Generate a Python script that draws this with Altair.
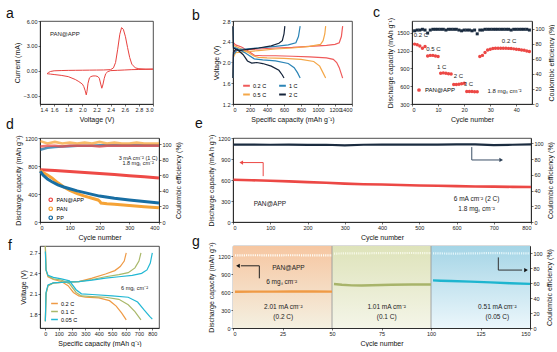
import altair as alt
import pandas as pd

FONT = "Liberation Sans"
RED = "#ec4845"
NAVY = "#1b2c40"

# ---------------- (a) CV ----------------
cv_voltage = [1.50, 1.52, 1.55, 1.60, 1.70, 1.80, 1.90, 2.00, 2.10, 2.20, 2.30, 2.40, 2.44, 2.47, 2.50, 2.53, 2.555, 2.58, 2.61, 2.64, 2.67, 2.70, 2.75, 2.80, 2.90, 3.00,
              2.90, 2.80, 2.70, 2.60, 2.50, 2.40, 2.36, 2.33, 2.31, 2.29, 2.275, 2.26, 2.24, 2.22, 2.19, 2.15, 2.12, 2.10, 2.08, 2.065, 2.055, 2.04, 2.02, 2.00, 1.95, 1.90, 1.80, 1.70, 1.60, 1.55, 1.50]
cv_current = [-0.35, -0.20, -0.08, 0.00, 0.03, 0.05, 0.06, 0.07, 0.08, 0.09, 0.10, 0.14, 0.35, 1.0, 2.6, 4.4, 5.2, 5.0, 4.1, 2.8, 1.6, 0.8, 0.35, 0.25, 0.2, 0.2,
              0.18, 0.16, 0.14, 0.10, 0.06, 0.02, -0.10, -0.35, -0.9, -1.7, -2.1, -1.6, -0.9, -0.7, -0.62, -0.62, -0.7, -0.85, -1.5, -2.5, -2.9, -2.4, -1.9, -1.6, -1.3, -1.05, -0.7, -0.55, -0.45, -0.4, -0.35]
a_xticks = [1.4, 1.6, 1.8, 2.0, 2.2, 2.4, 2.6, 2.8, 3.0]
a_yticks = [-3, 0, 3, 6]

# ---------------- (b) voltage profiles ----------------
b_rates = ["0.2 C", "0.5 C", "1 C", "2 C"]
b_colors = ["#ef5a5a", "#f4a748", "#2b84b6", "#14233a"]
b02_dis_cap = [0, 5, 30, 100, 180, 250, 350, 500, 700, 900, 1100, 1180, 1220, 1250, 1270, 1290]
b02_dis_v = [2.7, 2.38, 2.34, 2.30, 2.22, 2.14, 2.13, 2.13, 2.12, 2.11, 2.09, 2.06, 2.0, 1.9, 1.8, 1.7]
b02_chg_cap = [0, 5, 20, 60, 150, 300, 500, 700, 900, 1100, 1200, 1250, 1275, 1290]
b02_chg_v = [1.7, 2.15, 2.22, 2.24, 2.25, 2.26, 2.28, 2.29, 2.31, 2.33, 2.35, 2.38, 2.5, 2.7]
b05_dis_cap = [0, 5, 50, 150, 250, 300, 400, 600, 800, 950, 1020, 1060, 1090]
b05_dis_v = [2.7, 2.33, 2.30, 2.22, 2.12, 2.10, 2.09, 2.08, 2.06, 2.02, 1.93, 1.8, 1.7]
b05_chg_cap = [0, 5, 30, 100, 300, 500, 700, 900, 1030, 1060, 1080, 1090]
b05_chg_v = [1.7, 2.1, 2.19, 2.2, 2.23, 2.26, 2.28, 2.31, 2.35, 2.42, 2.55, 2.7]
b1_dis_cap = [0, 5, 50, 150, 250, 350, 500, 650, 720, 760, 790]
b1_dis_v = [2.7, 2.3, 2.27, 2.18, 2.07, 2.05, 2.03, 1.98, 1.9, 1.8, 1.7]
b1_chg_cap = [0, 5, 50, 150, 300, 500, 650, 740, 770, 790]
b1_chg_v = [1.7, 2.15, 2.25, 2.26, 2.28, 2.31, 2.34, 2.38, 2.5, 2.7]
b2_dis_cap = [0, 5, 50, 120, 170, 220, 280, 350, 450, 540, 580, 600]
b2_dis_v = [2.7, 2.28, 2.25, 2.15, 2.03, 1.99, 2.0, 1.98, 1.93, 1.85, 1.76, 1.7]
b2_chg_cap = [0, 5, 30, 80, 150, 300, 450, 540, 580, 600, 610]
b2_chg_v = [1.7, 2.2, 2.25, 2.23, 2.25, 2.28, 2.32, 2.37, 2.42, 2.55, 2.7]

# ---------------- (c) rate capability ----------------
c_cycles = list(range(1, 46))
c_capacity = [1310, 1300, 1280, 1240, 1270, 1110, 1120, 1120, 1110, 1100, 820, 825, 820, 810, 805,
              630, 630, 632, 640, 650, 510, 510, 510, 505, 505,
              1100, 1120, 1170, 1210, 1225, 1235, 1240, 1240, 1240, 1240, 1240, 1238, 1235, 1230, 1225, 1220, 1212, 1205, 1195, 1185]
c_ce = [97, 98, 98, 99, 98, 94, 98, 99, 99, 99, 99, 99, 98, 99, 99, 99, 99, 98, 97, 98, 98, 98, 97, 98, 93,
        98, 98, 99, 99, 99, 99, 99, 99, 99, 99, 99, 99, 98, 99, 99, 99, 99, 99, 99, 98]
c_labels = ["0.2 C", "0.5 C", "1 C", "2 C", "3 C", "0.2 C", "1.8 mgₛ cm⁻²"]
c_label_x = [3.4, 8.2, 11.4, 17.8, 21.6, 37.2, 35.5]
c_label_y = [1470, 1222, 929, 772, 632, 1362, 524]

# ---------------- (d) cycling 1 C ----------------
d_series = ["PAN@APP", "PAN", "PP"]
d_colors = ["#ee4a46", "#f5a336", "#186ea3"]
d_app_cycles = [1, 50, 100, 150, 200, 250, 300, 350, 400]
d_app_cap = [745, 735, 722, 708, 692, 678, 662, 645, 628]
d_pan_cycles = [1, 10, 25, 40, 60, 80, 100, 125, 150, 175, 195, 200, 205, 225, 250, 300, 350, 400]
d_pan_cap = [735, 705, 670, 630, 560, 500, 450, 405, 370, 340, 315, 300, 272, 262, 252, 235, 218, 202]
d_pp_cycles = [1, 10, 25, 40, 60, 80, 100, 125, 150, 175, 200, 250, 300, 350, 400]
d_pp_cap = [725, 670, 615, 575, 530, 500, 475, 445, 420, 395, 370, 340, 315, 293, 272]
d_ce_cycles = [1, 25, 50, 75, 100, 125, 150, 175, 200, 225, 250, 275, 300, 325, 350, 375, 400]
d_ce_app = [97, 98, 98, 97, 98, 98, 98, 98, 97, 98, 98, 98, 98, 98, 98, 98, 98]
d_ce_pan = [104, 101, 103, 101, 102, 101, 102, 101, 103, 101, 102, 101, 101, 102, 101, 101, 101]
d_ce_pp = [93, 95.5, 96.5, 97, 97.5, 98, 98, 98, 98.5, 98.5, 98.5, 98.5, 98.5, 98.5, 98.5, 98.5, 98.5]

# ---------------- (e) long cycling 2 C ----------------
e_cycles = [1, 50, 100, 150, 200, 250, 300, 350, 400, 450, 500, 550, 600, 650, 700, 750, 800]
e_capacity = [603, 597, 590, 580, 570, 560, 548, 540, 535, 528, 522, 517, 512, 508, 505, 502, 500]
e_ce = [98.5, 98.6, 98.4, 98.5, 98.3, 98.4, 97.6, 98.4, 98.6, 98.5, 98.6, 98.5, 98.8, 99.0, 97.9, 98.4, 99.0]

# ---------------- (f) high loading profiles ----------------
f_rates = ["0.2 C", "0.1 C", "0.05 C"]
f_colors = ["#ef9a45", "#a9b86a", "#22b8d4"]
f02_dis_cap = [0, 5, 20, 60, 120, 170, 210, 250, 300, 400, 480, 530, 570, 605]
f02_dis_v = [2.8, 2.45, 2.35, 2.31, 2.28, 2.22, 2.12, 2.07, 2.05, 2.04, 2.0, 1.92, 1.82, 1.72]
f02_chg_cap = [0, 5, 20, 60, 150, 250, 350, 450, 520, 560, 590, 605]
f02_chg_v = [1.7, 2.1, 2.22, 2.26, 2.27, 2.28, 2.33, 2.39, 2.44, 2.5, 2.58, 2.7]
f01_dis_cap = [0, 5, 20, 60, 120, 180, 230, 270, 350, 450, 550, 620, 670, 715]
f01_dis_v = [2.8, 2.45, 2.36, 2.32, 2.3, 2.25, 2.12, 2.07, 2.06, 2.05, 2.02, 1.94, 1.84, 1.72]
f01_chg_cap = [0, 5, 20, 60, 150, 250, 350, 450, 550, 620, 670, 700, 715]
f01_chg_v = [1.7, 2.1, 2.22, 2.26, 2.27, 2.28, 2.31, 2.35, 2.38, 2.41, 2.48, 2.58, 2.7]
f005_dis_cap = [0, 5, 20, 60, 120, 180, 230, 270, 350, 500, 620, 690, 740, 780, 800]
f005_dis_v = [2.72, 2.45, 2.37, 2.34, 2.32, 2.29, 2.16, 2.1, 2.09, 2.07, 2.05, 1.98, 1.86, 1.77, 1.73]
f005_chg_cap = [0, 5, 20, 60, 150, 250, 350, 450, 550, 650, 720, 760, 785, 800]
f005_chg_v = [1.7, 2.12, 2.23, 2.26, 2.27, 2.28, 2.3, 2.33, 2.35, 2.37, 2.4, 2.45, 2.55, 2.7]

# ---------------- (g) stepwise currents ----------------
g_region_start = [0, 50, 100]
g_region_end = [50, 100, 150]
g_region_top = ["#f6c6a1", "#dee3ba", "#a5d5e6"]
g_region_bottom = ["#f4f0e1", "#f4f5e8", "#ebf6fb"]
g1_cycles = [1, 10, 20, 30, 40, 50]
g1_cap = [605, 607, 608, 610, 610, 608]
g2_cycles = [51, 55, 60, 65, 70, 80, 90, 100]
g2_cap = [735, 722, 712, 710, 715, 722, 728, 728]
g3_cycles = [101, 105, 110, 120, 130, 140, 150]
g3_cap = [795, 790, 785, 775, 762, 748, 738]
g1_ce = [97.5, 97.6, 97.5, 97.6, 97.5, 97.5]
g2_ce = [99.8, 100.0, 100.2, 100.0, 100.3, 100.5, 100.6, 100.4]
g3_ce = [100.2, 100.0, 99.8, 100.0, 100.5, 100.2, 100.0]


# ---------------- helpers ----------------
def letter(t, dx, dy=0):
    return alt.TitleParams(text=t, anchor="start", frame="group", dx=dx, dy=dy, offset=0,
                           baseline="alphabetic", fontSize=14, fontWeight="normal", font=FONT, color="#111")


def ax(**kw):
    return alt.Axis(labelOverlap=False, labelFontSize=5.5, **kw)


def curves(items):
    rows = []
    for series, seg, xs, ys in items:
        for k, (x, y) in enumerate(zip(xs, ys)):
            rows.append({"s": series, "seg": series + seg, "x": x, "y": y, "k": k})
    return pd.DataFrame(rows)


def texts(X, Y, xs, ys, labels, size=6, align="center", color="#222"):
    df = pd.DataFrame({X.shorthand.split(":")[0]: xs, Y.shorthand.split(":")[0]: ys, "t": labels})
    return alt.Chart(df).mark_text(fontSize=size, align=align, baseline="middle", color=color, font=FONT).encode(
        x=X, y=Y, text="t:N")


def path(X, Y, xs, ys, color):
    df = pd.DataFrame({X.shorthand.split(":")[0]: xs, Y.shorthand.split(":")[0]: ys, "k": list(range(len(xs)))})
    return alt.Chart(df).mark_line(color=color, strokeWidth=1).encode(x=X, y=Y, order="k:Q")


def head(X, Y, x, y, shape, color):
    df = pd.DataFrame({X.shorthand.split(":")[0]: [x], Y.shorthand.split(":")[0]: [y]})
    return alt.Chart(df).mark_point(shape=shape, filled=True, size=18, color=color, opacity=1).encode(x=X, y=Y)


def ce_y(top):
    return alt.Y("ce:Q", scale=alt.Scale(domain=[0, top], nice=False),
                 axis=ax(orient="right", values=[0, 20, 40, 60, 80, 100], format="d",
                         title="Coulombic efficiency (%)", titleAngle=270, titleBaseline="top"))


cap_title = "Discharge capacity (mAh g⁻¹)"

# ---------------- panel a ----------------
A_X = alt.X("x:Q", scale=alt.Scale(domain=[1.4, 3.0], nice=False, zero=False),
            axis=ax(values=a_xticks, format=".1f", title="Voltage (V)"))
A_Y = alt.Y("y:Q", scale=alt.Scale(domain=[-4, 6], nice=False),
            axis=ax(values=a_yticks, format=".2f", title="Current (mA)"))
df_a = pd.DataFrame({"x": cv_voltage, "y": cv_current, "k": list(range(len(cv_voltage)))})
a_line = alt.Chart(df_a).mark_line(color="#e8423f", strokeWidth=1).encode(x=A_X, y=A_Y, order="k:Q")
panel_a = alt.layer(a_line, texts(A_X, A_Y, [1.54], [4.4], ["PAN@APP"], align="left")).properties(
    width=113, height=83, title=letter("a", -34, 13))

# ---------------- panel b ----------------
df_b = curves([
    ("0.2 C", "d", b02_dis_cap, b02_dis_v), ("0.2 C", "c", b02_chg_cap, b02_chg_v),
    ("0.5 C", "d", b05_dis_cap, b05_dis_v), ("0.5 C", "c", b05_chg_cap, b05_chg_v),
    ("1 C", "d", b1_dis_cap, b1_dis_v), ("1 C", "c", b1_chg_cap, b1_chg_v),
    ("2 C", "d", b2_dis_cap, b2_dis_v), ("2 C", "c", b2_chg_cap, b2_chg_v),
])
panel_b = alt.Chart(df_b).mark_line(strokeWidth=1.2).encode(
    x=alt.X("x:Q", scale=alt.Scale(domain=[0, 1400], nice=False),
            axis=ax(values=list(range(0, 1401, 200)), format="d", title="Specific capacity (mAh g⁻¹)")),
    y=alt.Y("y:Q", scale=alt.Scale(domain=[1.2, 2.8], nice=False, zero=False),
            axis=ax(values=[1.2, 1.6, 2.0, 2.4, 2.8], format=".1f", title="Voltage (V)")),
    color=alt.Color("s:N", scale=alt.Scale(domain=b_rates, range=b_colors),
                    legend=alt.Legend(orient="none", legendX=9, legendY=60, columns=2, symbolType="stroke",
                                      symbolStrokeWidth=2, symbolSize=45, labelFontSize=5.5, labelFont=FONT,
                                      rowPadding=0, columnPadding=8, labelOffset=2, padding=0, title=None)),
    detail="seg:N", order="k:Q").properties(width=119, height=83, title=letter("b", -41, 15))

# ---------------- panel c ----------------
C_X = alt.X("cycle:Q", scale=alt.Scale(domain=[0, 46], nice=False),
            axis=ax(values=[0, 10, 20, 30, 40], format="d", title="Cycle number"))
C_Y = alt.Y("cap:Q", scale=alt.Scale(domain=[300, 1700], nice=False, zero=False),
            axis=ax(values=[300, 600, 900, 1200, 1500], format="d", title=cap_title))
df_c = pd.DataFrame({"cycle": c_cycles, "cap": c_capacity, "ce": c_ce, "s": ["PAN@APP"] * len(c_cycles)})
c_cap = alt.Chart(df_c).mark_point(filled=True, size=12, opacity=1, shape="circle").encode(
    x=C_X, y=C_Y,
    color=alt.Color("s:N", scale=alt.Scale(domain=["PAN@APP"], range=[RED]),
                    legend=alt.Legend(orient="none", legendX=4, legendY=66, symbolType="circle", symbolSize=14,
                                      labelFontSize=6, labelFont=FONT, padding=0, labelOffset=3, title=None)))
c_left = alt.layer(c_cap, texts(C_X, C_Y, c_label_x, c_label_y, c_labels))
c_ce_pts = alt.Chart(df_c).mark_point(filled=True, size=9, shape="square", color=NAVY, opacity=1).encode(
    x=C_X, y=ce_y(110))
panel_c = alt.layer(c_left, c_ce_pts).resolve_scale(y="independent").properties(
    width=120, height=83, title=letter("c", -39, 14))

# ---------------- panel d ----------------
D_X = alt.X("cycle:Q", scale=alt.Scale(domain=[0, 400], nice=False),
            axis=ax(values=[0, 100, 200, 300, 400], format="d", title="Cycle number"))
D_Y = alt.Y("cap:Q", scale=alt.Scale(domain=[0, 1200], nice=False),
            axis=ax(values=[0, 400, 800, 1200], format="d", title=cap_title))
df_d = curves([("PAN@APP", "", d_app_cycles, d_app_cap), ("PAN", "", d_pan_cycles, d_pan_cap),
               ("PP", "", d_pp_cycles, d_pp_cap)]).rename(columns={"x": "cycle", "y": "cap"})
df_dce = curves([("PP", "", d_ce_cycles, d_ce_pp), ("PAN", "", d_ce_cycles, d_ce_pan),
                 ("PAN@APP", "", d_ce_cycles, d_ce_app)]).rename(columns={"x": "cycle", "y": "ce"})
d_cap = alt.Chart(df_d).mark_line(strokeWidth=3).encode(
    x=D_X, y=D_Y,
    color=alt.Color("s:N", scale=alt.Scale(domain=d_series, range=d_colors),
                    legend=alt.Legend(orient="none", legendX=8, legendY=59, symbolType="circle", symbolSize=12,
                                      symbolStrokeWidth=1.2, labelFontSize=5.5, labelFont=FONT, rowPadding=0,
                                      padding=0, labelOffset=3, title=None)),
    order="k:Q")
d_left = alt.layer(d_cap, texts(D_X, D_Y, [330, 330], [911, 839],
                                ["3 mA cm⁻² (1 C)", "1.8 mgₛ cm⁻²"], size=5.5))
d_ce = alt.Chart(df_dce).mark_line(strokeWidth=2.6, opacity=0.75).encode(
    x=D_X, y=ce_y(108),
    color=alt.Color("s:N", scale=alt.Scale(domain=d_series, range=d_colors), legend=None),
    detail="s:N", order="k:Q")
panel_d = alt.layer(d_left, d_ce).resolve_scale(y="independent").properties(
    width=119, height=84, title=letter("d", -34, 8))

# ---------------- panel e ----------------
E_X = alt.X("cycle:Q", scale=alt.Scale(domain=[0, 800], nice=False),
            axis=ax(values=list(range(0, 801, 100)), format="d", title="Cycle number"))
E_Y = alt.Y("cap:Q", scale=alt.Scale(domain=[0, 1200], nice=False),
            axis=ax(values=[0, 300, 600, 900, 1200], format="d", title="Discharge capacity (mA h g⁻¹)"))
E_CE = ce_y(107)
df_e = pd.DataFrame({"cycle": e_cycles, "cap": e_capacity, "ce": e_ce})
e_cap = alt.Chart(df_e).mark_line(color=RED, strokeWidth=2.6).encode(x=E_X, y=E_Y)
e_left = alt.layer(
    e_cap,
    path(E_X, E_Y, [81, 81, 26], [655, 849, 849], RED),
    head(E_X, E_Y, 22, 849, "triangle-left", RED),
    texts(E_X, E_Y, [99], [256], ["PAN@APP"], size=6.5),
    texts(E_X, E_Y, [654, 654], [328, 183], ["6 mA cm⁻² (2 C)", "1.8 mgₛ cm⁻²"], size=6.5))
e_ce_line = alt.Chart(df_e).mark_line(color=NAVY, strokeWidth=2.2).encode(x=E_X, y=E_CE)
e_right = alt.layer(
    e_ce_line,
    path(E_X, E_CE, [641, 641, 716], [95.4, 79, 79], "#3b4f66"),
    head(E_X, E_CE, 720, 79, "triangle-right", "#2b3f55"))
panel_e = alt.layer(e_left, e_right).resolve_scale(y="independent").properties(
    width=298, height=84, title=letter("e", -38, 8))

# ---------------- panel f ----------------
F_X = alt.X("x:Q", scale=alt.Scale(domain=[-40, 850], nice=False),
            axis=ax(values=list(range(0, 801, 100)), format="d", title="Specific capacity (mAh g⁻¹)"))
F_Y = alt.Y("y:Q", scale=alt.Scale(domain=[1.6, 2.8], nice=False, zero=False),
            axis=ax(values=[1.8, 2.1, 2.4, 2.7], format=".1f", title="Voltage (V)"))
df_f = curves([
    ("0.2 C", "d", f02_dis_cap, f02_dis_v), ("0.2 C", "c", f02_chg_cap, f02_chg_v),
    ("0.1 C", "d", f01_dis_cap, f01_dis_v), ("0.1 C", "c", f01_chg_cap, f01_chg_v),
    ("0.05 C", "d", f005_dis_cap, f005_dis_v), ("0.05 C", "c", f005_chg_cap, f005_chg_v),
])
f_lines = alt.Chart(df_f).mark_line(strokeWidth=1.2).encode(
    x=F_X, y=F_Y,
    color=alt.Color("s:N", scale=alt.Scale(domain=f_rates, range=f_colors),
                    legend=alt.Legend(orient="none", legendX=10, legendY=53, symbolType="stroke",
                                      symbolStrokeWidth=1.5, symbolSize=45, labelFontSize=5.5, labelFont=FONT,
                                      rowPadding=0, padding=0, labelOffset=2, title=None)),
    detail="seg:N", order="k:Q")
panel_f = alt.layer(f_lines, texts(F_X, F_Y, [667], [2.19], ["6 mgₛ cm⁻²"], size=5.5)).properties(
    width=119, height=82, title=letter("f", -32, 20))

# ---------------- panel g ----------------
G_X = alt.X("cycle:Q", scale=alt.Scale(domain=[0, 150], nice=False),
            axis=ax(values=[0, 25, 50, 75, 100, 125, 150], format="d", title="Cycle number"))
G_Y = alt.Y("cap:Q", scale=alt.Scale(domain=[0, 1370], nice=False),
            axis=ax(values=[0, 300, 600, 900, 1200], format="d", title=cap_title))
G_CE = ce_y(110)
g_layers = []
for i in range(3):
    grad = {"gradient": "linear", "x1": 0, "x2": 0, "y1": 0, "y2": 1,
            "stops": [{"offset": 0, "color": g_region_top[i]}, {"offset": 1, "color": g_region_bottom[i]}]}
    rdf = pd.DataFrame({"cycle": [g_region_start[i]], "cycle_end": [g_region_end[i]], "cap": [0], "cap_top": [1370]})
    g_layers.append(alt.Chart(rdf).mark_rect(color=grad).encode(x=G_X, x2="cycle_end:Q", y=G_Y, y2="cap_top:Q"))
g_rule = alt.Chart(pd.DataFrame({"cycle": [50, 100]})).mark_rule(color="#9a9a9a", strokeWidth=0.9).encode(x=G_X)
g_caps = []
for xs, ys, col in [(g1_cycles, g1_cap, "#ef9a45"), (g2_cycles, g2_cap, "#a8b46a"), (g3_cycles, g3_cap, "#1eb5cf")]:
    g_caps.append(alt.Chart(pd.DataFrame({"cycle": xs, "cap": ys})).mark_line(color=col, strokeWidth=2.4).encode(
        x=G_X, y=G_Y))
g_left = alt.layer(
    *g_layers, g_rule, *g_caps,
    path(G_X, G_Y, [13.3, 13.3, 4], [830, 1039, 1039], "#222"),
    head(G_X, G_Y, 2.5, 1039, "triangle-left", "#111"),
    texts(G_X, G_Y, [28, 24.6], [996, 773], ["PAN@APP", "6 mgₛ cm⁻²"], size=6.5),
    texts(G_X, G_Y, [25.4, 77.6, 133.5], [343, 343, 343], ["2.01 mA cm⁻²", "1.01 mA cm⁻²", "0.51 mA cm⁻²"], size=6.5),
    texts(G_X, G_Y, [25.4, 77.6, 133.5], [176, 176, 176], ["(0.2 C)", "(0.1 C)", "(0.05 C)"], size=6.5))
g_ces = []
for xs, ys, col in [(g1_cycles, g1_ce, "#fffaf2"), (g2_cycles, g2_ce, "#f6f8e6"), (g3_cycles, g3_ce, "#e2f5fa")]:
    g_ces.append(alt.Chart(pd.DataFrame({"cycle": xs, "ce": ys})).mark_line(
        color=col, strokeWidth=2.2, strokeDash=[1.2, 1]).encode(x=G_X, y=G_CE))
g_right = alt.layer(
    *g_ces,
    path(G_X, G_CE, [134, 134, 146], [94.7, 77.7, 77.7], "#333"),
    head(G_X, G_CE, 148, 77.7, "triangle-right", "#111"))
panel_g = alt.layer(g_left, g_right).resolve_scale(y="independent").properties(
    width=297, height=82, title=letter("g", -41, 18))

# ---------------- layout ----------------
spacer_df = pd.DataFrame({"s": [0]})


def spacer(w, h):
    return alt.Chart(spacer_df).mark_point(opacity=0, size=0).encode(
        x=alt.X("s:Q", axis=None), y=alt.Y("s:Q", axis=None)).properties(
        width=w, height=h, view=alt.ViewBackground(stroke="transparent"))


def row(*items):
    return alt.hconcat(*items, spacing=0, bounds="flush").resolve_scale(
        color="independent").resolve_legend(color="independent")


row1 = row(panel_a, spacer(80, 1), panel_b, spacer(60, 1), panel_c)
row2 = row(panel_d, spacer(74, 1), panel_e)
row3 = row(panel_f, spacer(74, 1), panel_g)

chart = alt.vconcat(row1, spacer(1, 117), row2, spacer(1, 108), row3, spacing=0, bounds="flush",
                    padding={"left": 5, "top": 5, "right": 0, "bottom": 0}).resolve_scale(
    color="independent").resolve_legend(color="independent").configure(
    font=FONT, background="white").configure_axis(
    labelFont=FONT, titleFont=FONT, labelFontSize=5.5, titleFontSize=7, titleFontWeight="normal",
    tickSize=2, labelPadding=1, titlePadding=3, domainColor="#111", tickColor="#111",
    labelColor="#222", titleColor="#111", grid=False, domainWidth=0.7, tickWidth=0.6,
    labelOverlap=False).configure_view(
    stroke="#222", strokeWidth=0.8).configure_legend(labelFont=FONT)

chart.save("out.html", embed_options={"renderer": "svg", "actions": False})
